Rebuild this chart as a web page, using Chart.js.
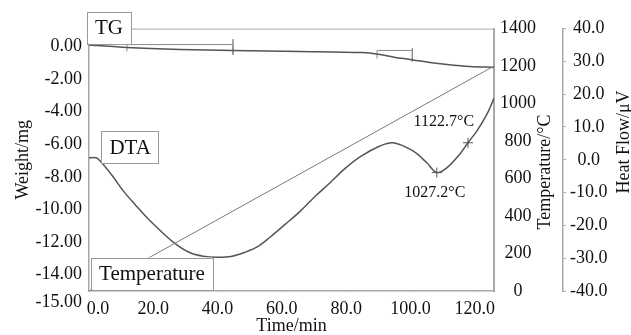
<!DOCTYPE html>
<html>
<head>
<meta charset="utf-8">
<script src="https://cdn.jsdelivr.net/npm/chart.js@4"></script>
<style>

body {
  margin: 0;
  background: #fff;
}

.chart-container {
  width: 631px;
  height: 335px;
}

</style>
</head>
<body>

<div class="chart-container"><canvas id="chart"></canvas></div>

<script>

// ==========================
// data
// ==========================

// TG curve (weight, mg)
const tgTime   = [0, 11.8, 28.3, 44.8, 65.6, 85.2, 90.5, 95.2, 99.8, 106.1, 111.4, 118.5, 126];
const tgWeight = [0.1, -0.06, -0.18, -0.24, -0.3, -0.37, -0.49, -0.67, -0.79, -0.98, -1.1, -1.22, -1.28];

// TG step marks
const tgMarkTime   = [11.8, 11.8, 44.8, 44.8, 44.8, null, 89.6, 89.6, 100.6, 100.6, 100.6];
const tgMarkWeight = [-0.3, 0.12, 0.12, 0.45, -0.5, null, -0.73, -0.24, -0.24, -0.1, -0.92];

// DTA curve (heat flow, uV)
const dtaTime = [0, 2.2, 3.7, 7.2, 10.6, 14.3, 18.0, 22.4, 26.7, 31.1, 35.5, 40.1, 44.5, 48.5,
  52.6, 56.3, 61.0, 65.6, 70.3, 75.0, 79.6, 84.3, 90.5, 94.6, 100.8, 105.1, 108.2, 111.4,
  115.4, 117.9, 120.7, 123.8, 126];
const dtaHeat = [0.6, 0.6, -0.6, -4.8, -9.4, -13.6, -17.6, -21.8, -25.5, -28.2, -29.4, -29.7, -29.4, -28.2,
  -26.4, -23.6, -19.7, -15.8, -11.2, -7.0, -2.7, 0.9, 4.2, 5.2, 2.7, -0.9, -3.9, -2.4,
  1.8, 5.2, 8.8, 13.9, 18.8];

// DTA peaks
const peakTime   = [108.2, 117.9];
const peakHeat   = [-3.9, 5.2];
const peakLabels = ["1027.2°C", "1122.7°C"];

// temperature program
const tempTime  = [0, 126];
const tempValue = [0, 1200];

// tick labels
const timeTicks   = [0, 20, 40, 60, 80, 100, 120];
const weightTicks = [0, -2, -4, -6, -8, -10, -12, -14, -15];
const tempTicks   = [0, 200, 400, 600, 800, 1000, 1200, 1400];
const heatTicks   = [-40, -30, -20, -10, 0, 10, 20, 30, 40];


// ==========================
// helpers
// ==========================

function pts(xs, ys) {
  return xs.map((x, i) => (x === null ? { x: null, y: null } : { x: x, y: ys[i] }));
}

const serif = "'Liberation Serif', 'Times New Roman', serif";
const ink = "#111";
const frame = "#a8a8a8";
const curve = "#555";


// ==========================
// boxed labels, peak labels, right titles
// ==========================

const annotate = {

  id: "annotate",

  afterDatasetsDraw(chart) {

    const { ctx, scales: s, chartArea: a } = chart;

    ctx.save();

    // top frame
    ctx.strokeStyle = frame;
    ctx.lineWidth = 1;
    ctx.beginPath();
    ctx.moveTo(a.left, a.top + 0.5);
    ctx.lineTo(a.right, a.top + 0.5);
    ctx.stroke();

    // boxes
    const boxes = [
      { text: "TG", t: 6.2, axis: "yW", v: 1.16 },
      { text: "DTA", t: 12.8, axis: "yH", v: 3.8 },
      { text: "Temperature", t: 19.6, axis: "yT", v: 93 }
    ];

    ctx.font = "21px " + serif;
    ctx.textAlign = "center";
    ctx.textBaseline = "middle";

    boxes.forEach(b => {
      const x = s.x.getPixelForValue(b.t);
      const y = s[b.axis].getPixelForValue(b.v);
      const w = ctx.measureText(b.text).width + 16;
      const h = 32;
      ctx.fillStyle = "#fff";
      ctx.fillRect(x - w / 2, y - h / 2, w, h);
      ctx.strokeStyle = "#999";
      ctx.strokeRect(Math.round(x - w / 2) + 0.5, Math.round(y - h / 2) + 0.5, Math.round(w), h);
      ctx.fillStyle = ink;
      ctx.fillText(b.text, x, y + 1);
    });

    // peak labels
    ctx.font = "16px " + serif;
    const peakPos = [
      { t: 107.6, v: -10.0 },
      { t: 110.4, v: 11.5 }
    ];
    peakPos.forEach((p, i) => {
      ctx.fillText(peakLabels[i], s.x.getPixelForValue(p.t), s.yH.getPixelForValue(p.v));
    });

    // right axis titles, reading upward
    ctx.font = "18px " + serif;
    const titles = [
      { text: "Temperature/°C", x: s.yT.right - 18, y: 172 },
      { text: "Heat Flow/μV", x: s.yH.right - 7, y: 142 }
    ];
    titles.forEach(t => {
      ctx.save();
      ctx.translate(t.x, t.y);
      ctx.rotate(-Math.PI / 2);
      ctx.fillText(t.text, 0, 0);
      ctx.restore();
    });

    ctx.restore();

  }

};


// ==========================
// chart
// ==========================

new Chart(document.getElementById("chart"), {

  type: "line",

  data: {
    datasets: [
      {
        data: pts(tempTime, tempValue),
        yAxisID: "yT",
        borderColor: "#7a7a7a",
        borderWidth: 1,
        pointRadius: 0
      },
      {
        data: pts(tgTime, tgWeight),
        yAxisID: "yW",
        borderColor: curve,
        borderWidth: 1.5,
        tension: 0.3,
        pointRadius: 0
      },
      {
        data: pts(tgMarkTime, tgMarkWeight),
        yAxisID: "yW",
        borderColor: "#8a8a8a",
        borderWidth: 1,
        spanGaps: false,
        pointRadius: 0
      },
      {
        data: pts(dtaTime, dtaHeat),
        yAxisID: "yH",
        borderColor: curve,
        borderWidth: 1.5,
        tension: 0.35,
        pointRadius: 0
      },
      {
        data: pts(peakTime, peakHeat),
        yAxisID: "yH",
        showLine: false,
        pointStyle: "cross",
        pointRadius: 5,
        borderColor: curve,
        borderWidth: 1
      }
    ]
  },

  options: {
    responsive: true,
    maintainAspectRatio: false,
    animation: false,
    layout: { padding: { top: 27 } },
    plugins: {
      legend: { display: false },
      tooltip: { enabled: false }
    },
    scales: {
      x: {
        type: "linear",
        min: 0,
        max: 126,
        afterBuildTicks: sc => { sc.ticks = timeTicks.map(v => ({ value: v })); },
        afterFit: sc => { sc.height = 44; },
        grid: { display: true, drawOnChartArea: false, tickLength: 0 },
        border: { color: frame, width: 1.5 },
        ticks: {
          color: ink,
          font: { family: serif, size: 18 },
          padding: 7,
          maxRotation: 0,
          autoSkip: false,
          // first label sits a bit right of its tick, as in the original
          callback: v => (v === 0 ? "\u2007\u2007" + v.toFixed(1) : v.toFixed(1))
        },
        title: {
          display: true,
          text: "Time/min",
          color: ink,
          font: { family: serif, size: 18, lineHeight: 1 },
          padding: 0
        }
      },
      yW: {
        position: "left",
        min: -15,
        max: 1.1,
        afterBuildTicks: sc => { sc.ticks = weightTicks.map(v => ({ value: v })); },
        afterFit: sc => { sc.width = 89; },
        grid: { drawOnChartArea: false, tickLength: 0 },
        border: { color: frame, width: 1.5 },
        ticks: {
          color: ink,
          font: { family: serif, size: 18 },
          padding: 7,
          autoSkip: false,
          // bottom label sits a little lower, as in the original
          callback: v => (v === -15 ? ["", v.toFixed(2)] : v.toFixed(2))
        },
        title: {
          display: true,
          text: "Weight/mg",
          color: ink,
          font: { family: serif, size: 18 },
          padding: { top: 12, bottom: 0 }
        }
      },
      yT: {
        position: "right",
        weight: 0,
        min: 0,
        max: 1400,
        afterBuildTicks: sc => { sc.ticks = tempTicks.map(v => ({ value: v })); },
        afterFit: sc => { sc.width = 69; },
        grid: { drawOnChartArea: false, tickLength: 0 },
        border: { color: frame, width: 2 },
        ticks: {
          color: ink,
          font: { family: serif, size: 18 },
          padding: 6,
          autoSkip: false,
          crossAlign: "center",
          callback: v => String(v)
        }
      },
      yH: {
        position: "right",
        weight: 1,
        min: -40,
        max: 40,
        afterBuildTicks: sc => { sc.ticks = heatTicks.map(v => ({ value: v })); },
        afterFit: sc => { sc.width = 68; },
        grid: { drawOnChartArea: false, tickLength: 3, color: frame },
        border: { color: frame, width: 1.5 },
        ticks: {
          color: ink,
          font: { family: serif, size: 18 },
          padding: 4,
          autoSkip: false,
          crossAlign: "center",
          callback: v => v.toFixed(1)
        }
      }
    }
  },

  plugins: [annotate]

});

</script>

</body>
</html>
